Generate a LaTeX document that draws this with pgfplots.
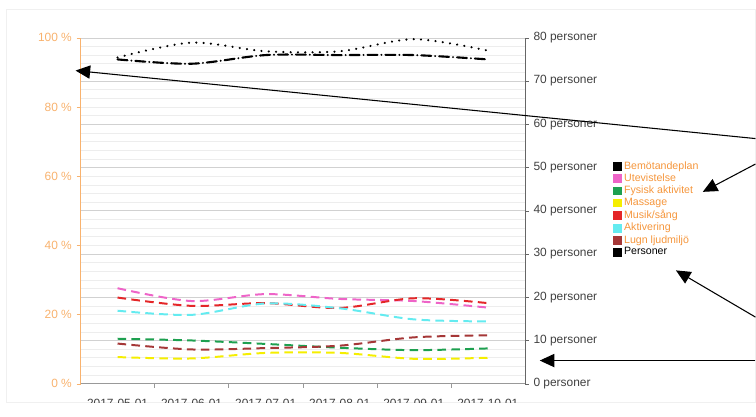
\documentclass[border=0pt]{standalone}
\usepackage{fontspec}
\setmainfont{Liberation Sans}
\usepackage{pgfplots}
\usepackage{pgfplotstable}
\pgfplotsset{compat=1.18}
\usetikzlibrary{arrows.meta}
\definecolor{axorange}{RGB}{248,178,110}
\definecolor{legorange}{RGB}{245,150,60}
\definecolor{pinkc}{RGB}{238,100,200}
\definecolor{redc}{RGB}{228,38,40}
\definecolor{cyanc}{RGB}{100,235,240}
\definecolor{greenc}{RGB}{30,160,80}
\definecolor{yellowc}{RGB}{245,238,0}
\definecolor{brownc}{RGB}{165,55,55}
\definecolor{txtgray}{RGB}{64,64,64}

\pgfplotstableread{
x bem ute fys mas mus akt lugn per
0 94.3 27.6 13.0 7.7 24.9 21.1 11.6 75
1 98.6 23.9 12.5 7.3 22.5 19.9 9.9 74
2 96.1 25.9 11.5 8.9 23.3 23.2 10.3 76
3 96.1 24.5 10.4 8.9 21.9 21.8 11.0 76
4 99.6 23.9 9.7 7.2 24.7 18.6 13.4 76
5 96.3 22.0 10.2 7.5 23.3 18.0 14.0 75
}\data

\begin{document}
\begin{tikzpicture}
\begin{scope}[x=0.75pt,y=-0.75pt]
\useasboundingbox (0,0) rectangle (756,419);
\draw[black!6] (6,9) rectangle (760,405);
\end{scope}
\begin{scope}
\clip (4.5pt,-6.75pt) rectangle (567pt,-303.75pt);
% right axis (personer) with grid
\begin{axis}[
  at={(60.75pt,-289.5pt)}, anchor=south west,
  scale only axis, width=335.25pt, height=261pt,
  xmin=-0.5, xmax=5.5, ymin=0, ymax=80,
  axis x line=none,
  axis y line*=right,
  y axis line style={-,gray!80!black},
  ytick={0,10,...,80},
  minor y tick num=4,
  minor tick length=0pt,
  major tick length=3pt,
  tick align=outside,
  ytick style={gray!80!black},
  ymajorgrids, yminorgrids,
  major grid style={black!18},
  minor grid style={black!7},
  yticklabel={\pgfmathprintnumber{\tick} personer},
  yticklabel style={font=\fontsize{9}{10}\selectfont, text=txtgray},
  /pgf/number format/assume math mode=true,
]
\addplot[black, line width=1.6pt, line cap=round,
  dash pattern=on 7.5pt off 3pt on 0.01pt off 3pt, smooth] table[x=x,y=per]{\data};
\end{axis}
% left axis (percent)
\begin{axis}[
  at={(60.75pt,-289.5pt)}, anchor=south west,
  scale only axis, width=335.25pt, height=261pt,
  xmin=-0.5, xmax=5.5, ymin=0, ymax=100,
  axis x line*=bottom, axis y line*=left,
  x axis line style={-,gray!80},
  y axis line style={-,axorange},
  xtick={0,...,5},
  xticklabels={2017-05-01,2017-06-01,2017-07-01,2017-08-01,2017-09-01,2017-10-01},
  minor xtick={0.5,1.5,2.5,3.5,4.5},
  major x tick style={draw=none},
  minor x tick style={gray!80},
  minor tick length=3pt,
  major tick length=3pt,
  tick align=outside,
  ytick={0,20,...,100},
  ytick style={axorange},
  yticklabel={\pgfmathprintnumber{\tick} \%},
  yticklabel style={font=\fontsize{9}{10}\selectfont, text=axorange},
  xticklabel style={font=\fontsize{9}{10}\selectfont, text=txtgray, yshift=-5pt},
  /pgf/number format/assume math mode=true,
  legend image code/.code={\fill[#1, solid, sharp plot, line width=0pt] (0pt,-3pt) rectangle (6pt,3pt);},
  legend style={at={(1.199,0.650)}, anchor=north west, draw=none, fill=none,
    font=\fontsize{8}{9}\selectfont, inner sep=0pt, row sep=-2.1pt,
    cells={anchor=west}},
]
\addplot[black, line width=1.8pt, line cap=round, dash pattern=on 0.01pt off 5.5pt, smooth]
  table[x=x,y=bem]{\data};
\addlegendentry{\textcolor{legorange}{Bemötandeplan}}
\addplot[pinkc, line width=1.5pt, dash pattern=on 6.5pt off 4pt, smooth] table[x=x,y=ute]{\data};
\addlegendentry{\textcolor{legorange}{Utevistelse}}
\addplot[greenc, line width=1.5pt, dash pattern=on 6.5pt off 4pt, smooth] table[x=x,y=fys]{\data};
\addlegendentry{\textcolor{legorange}{Fysisk aktivitet}}
\addplot[yellowc, line width=1.5pt, dash pattern=on 6.5pt off 4pt, smooth] table[x=x,y=mas]{\data};
\addlegendentry{\textcolor{legorange}{Massage}}
\addplot[redc, line width=1.5pt, dash pattern=on 6.5pt off 4pt, smooth] table[x=x,y=mus]{\data};
\addlegendentry{\textcolor{legorange}{Musik/sång}}
\addplot[cyanc, line width=1.5pt, dash pattern=on 6.5pt off 4pt, smooth] table[x=x,y=akt]{\data};
\addlegendentry{\textcolor{legorange}{Aktivering}}
\addplot[brownc, line width=1.5pt, dash pattern=on 6.5pt off 4pt, smooth] table[x=x,y=lugn]{\data};
\addlegendentry{\textcolor{legorange}{Lugn ljudmiljö}}
\addlegendimage{black}
\addlegendentry{Personer}
\end{axis}
\end{scope}
\begin{scope}[x=0.75pt,y=-0.75pt]
\draw[line width=0.8pt, -{Triangle[length=11pt,width=10pt]}] (760,139.4) -- (76,71);
\draw[line width=0.8pt, -{Triangle[length=11pt,width=10pt]}] (760,165) -- (707,193);
\draw[line width=0.8pt, -{Triangle[length=11pt,width=10pt]}] (760,319) -- (680,272);
\draw[line width=0.8pt, -{Triangle[length=11pt,width=10pt]}] (760,362.7) -- (543,362.7);
\end{scope}
\end{tikzpicture}
\end{document}
